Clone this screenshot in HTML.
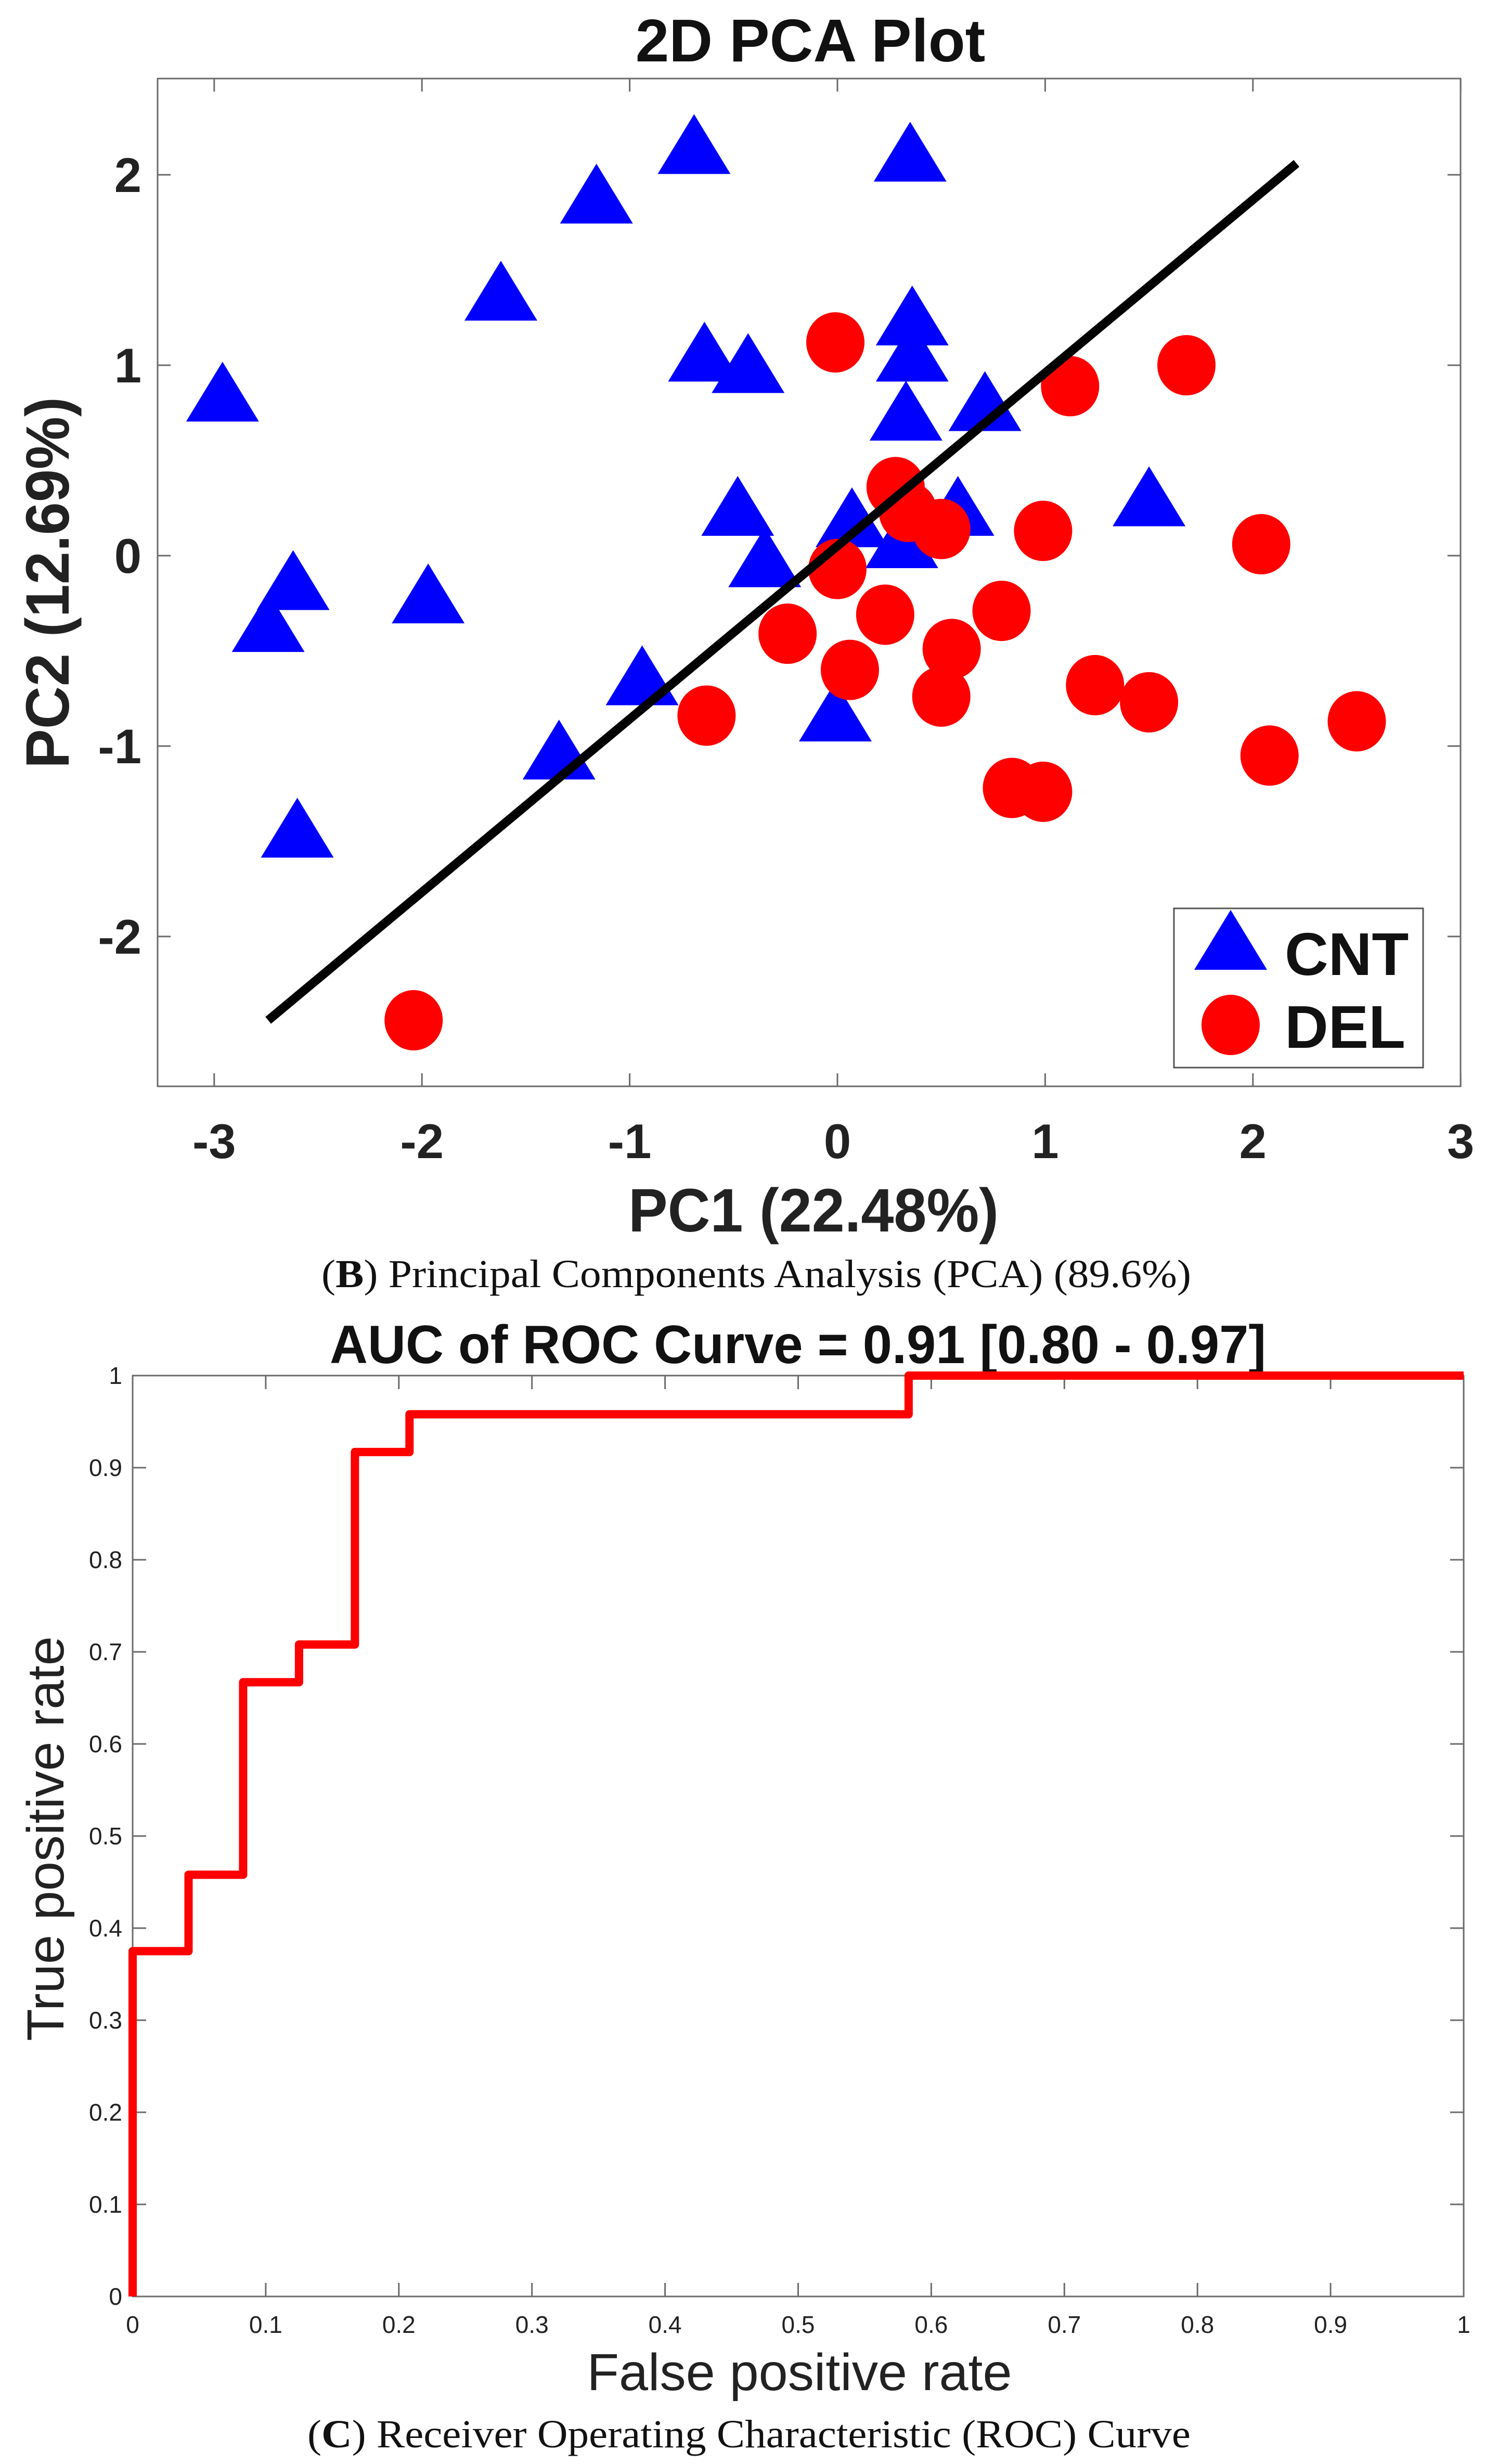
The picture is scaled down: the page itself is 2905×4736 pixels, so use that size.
<!DOCTYPE html>
<html><head><meta charset="utf-8"><style>
html,body{margin:0;padding:0;background:#fff;}
svg{display:block;}
</style></head><body>
<svg id="fig" xmlns="http://www.w3.org/2000/svg" width="2905" height="4736" viewBox="0 0 2905 4736">
<rect width="2905" height="4736" fill="#fff"/>
<g id="pca"></g>
<g id="roc"></g>
</svg>
<script>
// ---- PCA data ----
const cntX = [-2.96,-0.69,0.35,-1.16,-1.62,-0.64,-0.43,0.36,0.36,0.33,0.71,1.50,-0.48,0.07,0.58,0.31,-0.35,-2.62,-2.74,-1.97,-0.94,-0.01,-1.34,-2.60];
const cntY = [0.83,2.13,2.09,1.87,1.36,1.04,0.98,1.23,1.04,0.73,0.78,0.28,0.23,0.17,0.23,0.06,-0.04,-0.16,-0.38,-0.23,-0.66,-0.85,-1.05,-1.46];
const delX = [-0.01,1.12,1.68,0.28,0.34,0.50,0.99,2.04,0.00,0.23,0.79,-0.24,0.55,0.06,0.50,1.24,1.50,-0.63,2.50,2.08,0.84,0.99,-2.04];
const delY = [1.12,0.89,1.00,0.36,0.23,0.14,0.13,0.06,-0.07,-0.31,-0.29,-0.41,-0.49,-0.60,-0.74,-0.68,-0.77,-0.84,-0.87,-1.05,-1.22,-1.24,-2.44];
const fitLineX = [-2.74, 2.21];
const fitLineY = [-2.44, 2.06];
const pcaXTicks = [-3,-2,-1,0,1,2,3];
const pcaYTicks = [-2,-1,0,1,2];
// ---- ROC data ----
const rocFpr = [0,0,0.042,0.042,0.083,0.083,0.125,0.125,0.167,0.167,0.208,0.208,0.583,0.583,1];
const rocTpr = [0,0.375,0.375,0.458,0.458,0.667,0.667,0.708,0.708,0.917,0.917,0.958,0.958,1,1];
const rocTicks = [0,0.1,0.2,0.3,0.4,0.5,0.6,0.7,0.8,0.9,1];
const rocTickLabels = ["0","0.1","0.2","0.3","0.4","0.5","0.6","0.7","0.8","0.9","1"];

const NS = "http://www.w3.org/2000/svg";
function mk(parent, tag, attrs, text){
  const e = document.createElementNS(NS, tag);
  for (const k in attrs) e.setAttribute(k, attrs[k]);
  if (text !== undefined) e.textContent = text;
  parent.appendChild(e);
  return e;
}
const SANS = '"Liberation Sans", sans-serif';
const SERIF = '"Liberation Serif", serif';

// ================= PCA =================
const pca = document.getElementById('pca');
const pL = 303, pR = 2808, pT = 151, pB = 2088;
const px = v => 1610 + v * 399.4;
const py = v => 1068 - v * 366;

let fr = mk(pca, 'rect', {x:pL, y:pT, width:pR-pL, height:pB-pT, fill:'none', stroke:'#6b6b6b', 'stroke-width':3});



pcaXTicks.forEach(t => {
  const x = px(t);
  let a = mk(pca, 'line', {x1:x, y1:pB, x2:x, y2:pB-25, stroke:'#6b6b6b', 'stroke-width':3});
  
  
  let b = mk(pca, 'line', {x1:x, y1:pT, x2:x, y2:pT+25, stroke:'#6b6b6b', 'stroke-width':3});
  
  
  let l = mk(pca, 'text', {x:x, y:2226, 'font-family':SANS, 'font-weight':'bold', 'font-size':94, 'text-anchor':'middle', fill:'#222'}, String(t));
  
  
});
pcaYTicks.forEach(t => {
  const y = py(t);
  let a = mk(pca, 'line', {x1:pL, y1:y, x2:pL+25, y2:y, stroke:'#6b6b6b', 'stroke-width':3});
  
  
  let b = mk(pca, 'line', {x1:pR, y1:y, x2:pR-25, y2:y, stroke:'#6b6b6b', 'stroke-width':3});
  
  
  let l = mk(pca, 'text', {x:272, y:y+33, 'font-family':SANS, 'font-weight':'bold', 'font-size':94, 'text-anchor':'end', fill:'#222'}, String(t));
  
  
});

let ttl = mk(pca, 'text', {x:1558, y:118, 'font-family':SANS, 'font-weight':'bold', 'font-size':116, 'text-anchor':'middle', fill:'#111'}, '2D PCA Plot');


let xl = mk(pca, 'text', {x:1564, y:2367, 'font-family':SANS, 'font-weight':'bold', 'font-size':118, 'text-anchor':'middle', textLength:712, lengthAdjust:'spacingAndGlyphs', fill:'#222'}, 'PC1 (22.48%)');


let yl = mk(pca, 'text', {x:0, y:0, transform:'translate(132,1120) rotate(-90)', 'font-family':SANS, 'font-weight':'bold', 'font-size':118, 'text-anchor':'middle', textLength:714, lengthAdjust:'spacingAndGlyphs', fill:'#222'}, 'PC2 (12.69%)');



function tri(g, cx, cy){
  const w = 140, h = 115;
  return mk(g, 'polygon', {points:`${cx},${cy-h*0.6} ${cx-w/2},${cy+h*0.4} ${cx+w/2},${cy+h*0.4}`, fill:'#0000ff'});
}
cntX.forEach((v,i) => {
  const t = tri(pca, px(v), py(cntY[i]));
  
  
});
delX.forEach((v,i) => {
  const c = mk(pca, 'ellipse', {cx:px(v), cy:py(delY[i]), rx:56, ry:58, fill:'#ff0000'});
  
  
});
let fl = mk(pca, 'line', {x1:px(fitLineX[0]), y1:py(fitLineY[0]), x2:px(fitLineX[1]), y2:py(fitLineY[1]), stroke:'#000', 'stroke-width':17});



// legend
const lg = mk(pca, 'g', {});


let lb = mk(lg, 'rect', {x:2257, y:1746, width:479, height:306, fill:'#fff', stroke:'#555', 'stroke-width':3});


let lt = tri(lg, 2366, 1818);


let ltx = mk(lg, 'text', {x:2470, y:1874, 'font-family':SANS, 'font-weight':'bold', 'font-size':116, fill:'#111'}, 'CNT');


let lc = mk(lg, 'ellipse', {cx:2366, cy:1970, rx:56, ry:58, fill:'#ff0000'});


let lcx = mk(lg, 'text', {x:2470, y:2014, 'font-family':SANS, 'font-weight':'bold', 'font-size':116, fill:'#111'}, 'DEL');



let capB = mk(pca, 'text', {x:1454, y:2474, 'font-family':SERIF, 'font-size':76, 'text-anchor':'middle', textLength:1672, lengthAdjust:'spacingAndGlyphs', fill:'#111'});


mk(capB, 'tspan', {}, '(');
mk(capB, 'tspan', {'font-weight':'bold'}, 'B');
mk(capB, 'tspan', {}, ') Principal Components Analysis (PCA) (89.6%)');

// ================= ROC =================
const roc = document.getElementById('roc');
const rL = 255, rR = 2814, rT = 2644, rB = 4414;
const rx = v => rL + v * (rR - rL);
const ry = v => rB - v * (rB - rT);

let rf = mk(roc, 'rect', {x:rL, y:rT, width:rR-rL, height:rB-rT, fill:'none', stroke:'#6b6b6b', 'stroke-width':3});



rocTicks.forEach((t,i) => {
  const x = rx(t), y = ry(t);
  let a = mk(roc, 'line', {x1:x, y1:rB, x2:x, y2:rB-26, stroke:'#6b6b6b', 'stroke-width':3});
  
  
  let a2 = mk(roc, 'line', {x1:x, y1:rT, x2:x, y2:rT+26, stroke:'#6b6b6b', 'stroke-width':3});
  
  
  let b = mk(roc, 'line', {x1:rL, y1:y, x2:rL+26, y2:y, stroke:'#6b6b6b', 'stroke-width':3});
  
  
  let b2 = mk(roc, 'line', {x1:rR, y1:y, x2:rR-26, y2:y, stroke:'#6b6b6b', 'stroke-width':3});
  
  
  let lx = mk(roc, 'text', {x:x, y:4484, 'font-family':SANS, 'font-size':46, 'text-anchor':'middle', fill:'#222'}, rocTickLabels[i]);
  
  
  let ly = mk(roc, 'text', {x:235, y:y+16, 'font-family':SANS, 'font-size':46, 'text-anchor':'end', fill:'#222'}, rocTickLabels[i]);
  
  
});

let rt = mk(roc, 'text', {x:1534, y:2620, 'font-family':SANS, 'font-weight':'bold', 'font-size':104, 'text-anchor':'middle', textLength:1800, lengthAdjust:'spacingAndGlyphs', fill:'#111'}, 'AUC of ROC Curve = 0.91 [0.80 - 0.97]');


let rxl = mk(roc, 'text', {x:1537, y:4594, 'font-family':SANS, 'font-size':100, 'text-anchor':'middle', textLength:817, lengthAdjust:'spacingAndGlyphs', fill:'#222'}, 'False positive rate');


let ryl = mk(roc, 'text', {x:0, y:0, transform:'translate(122,3534) rotate(-90)', 'font-family':SANS, 'font-size':100, 'text-anchor':'middle', textLength:778, lengthAdjust:'spacingAndGlyphs', fill:'#222'}, 'True positive rate');



const pts = rocFpr.map((v,i) => rx(v) + ',' + ry(rocTpr[i])).join(' ');
let rl = mk(roc, 'polyline', {points:pts, fill:'none', stroke:'#ff0000', 'stroke-width':16, 'stroke-linejoin':'round'});



let capC = mk(roc, 'text', {x:1440, y:4704, 'font-family':SERIF, 'font-size':76, 'text-anchor':'middle', textLength:1698, lengthAdjust:'spacingAndGlyphs', fill:'#111'});


mk(capC, 'tspan', {}, '(');
mk(capC, 'tspan', {'font-weight':'bold'}, 'C');
mk(capC, 'tspan', {}, ') Receiver Operating Characteristic (ROC) Curve');
</script>
</body></html>
